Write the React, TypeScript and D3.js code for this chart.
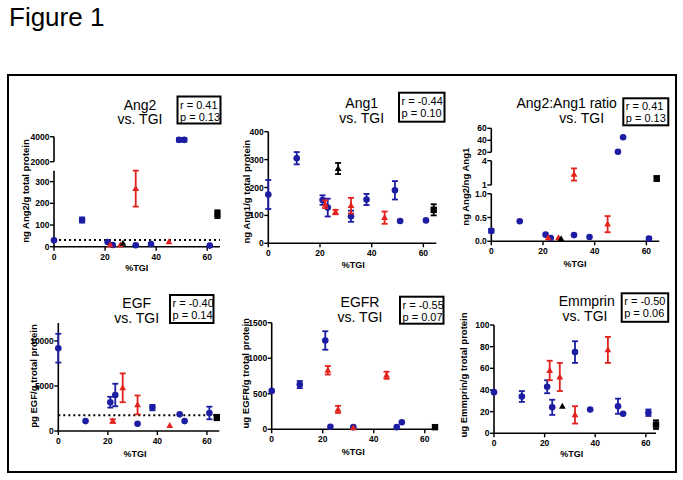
import React from "react";
import * as d3 from "d3";

// ---------- DATA ----------
const blueTGI = [0, 11, 21, 23, 32, 38, 49, 51, 61];
const redTGI = [22, 26, 32, 45];
const blackTGI = [27, 64];
const blackShapes = ["triangle", "square"];
const xTicks = [0, 20, 40, 60];

const ang2Blue = [30, 123, 22, 8, 7, 12, 3750, 3750, 5];
const ang2BlueErr = [0, 12, 0, 0, 0, 0, 150, 150, 0];
const ang2Red = [8, 8, 268, 22];
const ang2RedErr = [0, 0, 83, 0];
const ang2Black = [15, 150];
const ang2BlackErr = [0, 18];

const ang1Blue = [175, 305, 155, 128, 97, 157, 190, 80, 82];
const ang1BlueErr = [52, 22, 17, 32, 20, 20, 33, 3, 0];
const ang1Red = [140, 112, 135, 92];
const ang1RedErr = [14, 8, 28, 22];
const ang1Black = [268, 120];
const ang1BlackErr = [20, 20];

const ratioBlue = [0.22, 0.42, 0.14, 0.07, 0.13, 0.09, 21, 45, 0.06];
const ratioBlueErr = [0.04, 0, 0, 0, 0, 0, 0, 0, 0.03];
const ratioRed = [0.07, 0.07, 2.3, 0.36];
const ratioRedErr = [0, 0, 0.75, 0.17];
const ratioBlack = [0.05, 1.8];
const ratioBlackErr = [0, 0.3];

const egfBlue = [9200, 1100, 3200, 4000, 800, 2600, 1850, 1100, 2000];
const egfBlueErr = [1600, 0, 600, 1250, 0, 300, 0, 0, 700];
const egfRed = [1100, 4800, 2900, 600];
const egfRedErr = [200, 1600, 1050, 0];
const egfBlack = [null, 1500];
const egfBlackErr = [0, 300];

const egfrBlue = [540, 630, 1250, 35, 30, null, 30, 100, null];
const egfrBlueErr = [0, 50, 130, 0, 0, 0, 0, 0, 0];
const egfrRed = [830, 280, 20, 760];
const egfrRedErr = [60, 50, 0, 50];
const egfrBlack = [null, 30];
const egfrBlackErr = [0, 0];

const emmBlue = [38, 34, 43, 24, 75, 22, 25, 18, 19];
const emmBlueErr = [0, 5, 6, 7, 10, 0, 7, 0, 3];
const emmRed = [58, 52, 17, 77];
const emmRedErr = [9, 13, 8, 12];
const emmBlack = [25, 8];
const emmBlackErr = [0, 4];

// ---------- STYLE / LAYOUT ----------
const BLUE = "#1d1da3";
const RED = "#e3221e";
const BLACK = "#000";
const FONT = "'Liberation Sans', Arial, sans-serif";

type Seg = { d: [number, number]; r: [number, number]; ticks: number[]; fmt: string };

const panels: any[] = [
  {
    t1: "Ang2", t2: "vs. TGI", tx1: 140, tx2: 140, ty1: 110, ty2: 124,
    stats: ["r = 0.41", "p = 0.13"], box: [177.5, 96.5, 43, 27],
    ylab: "ng Ang2/g total protein", ylx: 25, yly: 191,
    xlx: 136.7, xly: 267.5,
    xr: [54, 220], xmax: 65,
    segs: [
      { d: [0, 350], r: [246.7, 170.8], ticks: [0, 100, 200, 300], fmt: "d" },
      { d: [2000, 4000], r: [161.7, 136.7], ticks: [2000, 4000], fmt: "d" },
    ],
    dotted: 31,
    data: [ang2Blue, ang2BlueErr, ang2Red, ang2RedErr, ang2Black, ang2BlackErr],
  },
  {
    t1: "Ang1", t2: "vs. TGI", tx1: 361.7, tx2: 361.7, ty1: 108, ty2: 122.5,
    stats: ["r = -0.44", "p = 0.10"], box: [399, 92.7, 45.5, 29],
    ylab: "ng Ang1/g total protein", ylx: 246.7, yly: 191.7,
    xlx: 353.3, xly: 265,
    xr: [268.3, 436.3], xmax: 65,
    segs: [{ d: [0, 400], r: [243.3, 131.7], ticks: [0, 100, 200, 300, 400], fmt: "d" }],
    dotted: null,
    data: [ang1Blue, ang1BlueErr, ang1Red, ang1RedErr, ang1Black, ang1BlackErr],
  },
  {
    t1: "Ang2:Ang1 ratio", t2: "vs. TGI", tx1: 566.7, tx2: 581.7, ty1: 108.3, ty2: 123.3,
    stats: ["r = 0.41", "p = 0.13"], box: [623.3, 98.3, 45, 27],
    ylab: "ng Ang2/ng Ang1", ylx: 465, yly: 186.7,
    xlx: 575, xly: 263.5,
    xr: [491.3, 659.3], xmax: 65,
    segs: [
      { d: [0, 1], r: [241.3, 193.7], ticks: [0, 0.5, 1], fmt: ".1f" },
      { d: [1, 4], r: [185, 160.7], ticks: [1, 4], fmt: "d" },
      { d: [20, 60], r: [152.3, 128.3], ticks: [20, 40, 60], fmt: "d" },
    ],
    dotted: null,
    data: [ratioBlue, ratioBlueErr, ratioRed, ratioRedErr, ratioBlack, ratioBlackErr],
  },
  {
    t1: "EGF", t2: "vs. TGI", tx1: 136.7, tx2: 136.7, ty1: 308.3, ty2: 322.7,
    stats: ["r = -0.40", "p = 0.14"], box: [170, 295, 43.5, 28],
    ylab: "pg EGF/g trotal protein", ylx: 33.3, yly: 376,
    xlx: 135, xly: 453.5,
    xr: [58.3, 219.3], xmax: 65,
    segs: [{ d: [0, 12000], r: [431, 323], ticks: [0, 5000, 10000], fmt: "d" }],
    dotted: 1750,
    data: [egfBlue, egfBlueErr, egfRed, egfRedErr, egfBlack, egfBlackErr],
  },
  {
    t1: "EGFR", t2: "vs. TGI", tx1: 360, tx2: 360, ty1: 307.3, ty2: 321.7,
    stats: ["r = -0.55", "p = 0.07"], box: [400, 296.7, 43.5, 27],
    ylab: "ug EGFR/g trotal protein", ylx: 245.7, yly: 373.3,
    xlx: 353.3, xly: 451.7,
    xr: [271.7, 435], xmax: 64,
    segs: [{ d: [0, 1500], r: [429.3, 322.7], ticks: [0, 500, 1000, 1500], fmt: "d" }],
    dotted: null,
    data: [egfrBlue, egfrBlueErr, egfrRed, egfrRedErr, egfrBlack, egfrBlackErr],
  },
  {
    t1: "Emmprin", t2: "vs. TGI", tx1: 586.7, tx2: 585, ty1: 306, ty2: 320.7,
    stats: ["r = -0.50", "p = 0.06"], box: [621.7, 293.3, 46.5, 28.5],
    ylab: "ug Emmprin/g trotal protein", ylx: 463.3, yly: 375,
    xlx: 571.7, xly: 454,
    xr: [494, 656], xmax: 64,
    segs: [{ d: [0, 100], r: [433.3, 325], ticks: [0, 20, 40, 60, 80, 100], fmt: "d" }],
    dotted: null,
    data: [emmBlue, emmBlueErr, emmRed, emmRedErr, emmBlack, emmBlackErr],
  },
];

function Marker({ shape, x, y, color }: any) {
  if (shape === "circle") return <circle cx={x} cy={y} r={3.3} fill={color} />;
  if (shape === "triangle") {
    const p = d3.path();
    p.moveTo(x, y - 3.6);
    p.lineTo(x + 3.4, y + 2.4);
    p.lineTo(x - 3.4, y + 2.4);
    p.closePath();
    return <path d={p.toString()} fill={color} />;
  }
  return <rect x={x - 3.2} y={y - 3.2} width={6.4} height={6.4} fill={color} />;
}

function Panel({ cfg }: any) {
  const x = d3.scaleLinear().domain([0, cfg.xmax]).range(cfg.xr);
  const segs: Seg[] = cfg.segs;
  const scales = segs.map((s) => d3.scaleLinear().domain(s.d).range(s.r));
  const segIdx = (v: number) => {
    for (let i = 0; i < segs.length; i++) if (v <= segs[i].d[1]) return i;
    return segs.length - 1;
  };
  const ax = cfg.xr[0];
  const base = segs[0].r[0];
  const [bV, bE, rV, rE, kV, kE] = cfg.data;
  const groups = [
    { xs: blueTGI, v: bV, e: bE, color: BLUE, shape: () => "circle" },
    { xs: redTGI, v: rV, e: rE, color: RED, shape: () => "triangle" },
    { xs: blackTGI, v: kV, e: kE, color: BLACK, shape: (i: number) => blackShapes[i] },
  ];
  return (
    <g>
      {/* title */}
      <text x={cfg.tx1} y={cfg.ty1} textAnchor="middle" fontSize={14} fontFamily={FONT}>{cfg.t1}</text>
      <text x={cfg.tx2} y={cfg.ty2} textAnchor="middle" fontSize={14} fontFamily={FONT}>{cfg.t2}</text>
      {/* stats box */}
      <rect x={cfg.box[0]} y={cfg.box[1]} width={cfg.box[2]} height={cfg.box[3]} fill="#fff" stroke="#000" strokeWidth={2} />
      <text x={cfg.box[0] + 2.5} y={cfg.box[1] + 12} fontSize={11} fontFamily={FONT}>{cfg.stats[0]}</text>
      <text x={cfg.box[0] + 2.5} y={cfg.box[1] + 24} fontSize={11} fontFamily={FONT}>{cfg.stats[1]}</text>
      {/* axes labels */}
      <text transform={`translate(${cfg.ylx},${cfg.yly}) rotate(-90)`} textAnchor="middle" dominantBaseline="central" fontSize={9.5} fontWeight="bold" fontFamily={FONT}>{cfg.ylab}</text>
      <text x={cfg.xlx} y={cfg.xly} textAnchor="middle" dominantBaseline="central" fontSize={9} fontWeight="bold" fontFamily={FONT}>%TGI</text>
      {/* dotted reference line */}
      {cfg.dotted != null && (
        <line x1={ax} x2={cfg.xr[1]} y1={scales[segIdx(cfg.dotted)](cfg.dotted)} y2={scales[segIdx(cfg.dotted)](cfg.dotted)} stroke="#000" strokeWidth={2} strokeDasharray="2,3" />
      )}
      {/* x axis */}
      <line x1={ax} x2={cfg.xr[1]} y1={base} y2={base} stroke="#000" strokeWidth={1.6} />
      {xTicks.map((t) => (
        <g key={"xt" + t}>
          <line x1={x(t)} x2={x(t)} y1={base} y2={base + 4} stroke="#000" strokeWidth={1.4} />
          <text x={x(t)} y={base + 10} textAnchor="middle" dominantBaseline="central" fontSize={8.5} fontWeight="bold" fontFamily={FONT}>{t}</text>
        </g>
      ))}
      {/* y axis segments */}
      {segs.map((s, i) => (
        <g key={"seg" + i}>
          <line x1={ax} x2={ax} y1={s.r[0]} y2={s.r[1]} stroke="#000" strokeWidth={1.6} />
          {s.ticks.map((t) => (
            <g key={"yt" + t}>
              <line x1={ax - 4} x2={ax} y1={scales[i](t)} y2={scales[i](t)} stroke="#000" strokeWidth={1.4} />
              <text x={ax - 4.5} y={scales[i](t)} textAnchor="end" dominantBaseline="central" fontSize={8.5} fontWeight="bold" fontFamily={FONT}>{d3.format(s.fmt)(t)}</text>
            </g>
          ))}
        </g>
      ))}
      {/* data */}
      {groups.map((g, gi) =>
        g.xs.map((tx, i) => {
          const v = g.v[i];
          if (v == null) return null;
          const si = segIdx(v);
          const sc = scales[si];
          const cx = x(tx);
          const cy = sc(v);
          const e = g.e[i] || 0;
          return (
            <g key={`d${gi}-${i}`}>
              {e > 0 && (
                <g stroke={g.color} strokeWidth={1.8}>
                  <line x1={cx} x2={cx} y1={sc(v - e)} y2={sc(v + e)} />
                  <line x1={cx - 3} x2={cx + 3} y1={sc(v - e)} y2={sc(v - e)} />
                  <line x1={cx - 3} x2={cx + 3} y1={sc(v + e)} y2={sc(v + e)} />
                </g>
              )}
              <Marker shape={g.shape(i)} x={cx} y={cy} color={g.color} />
            </g>
          );
        })
      )}
    </g>
  );
}

export default function App() {
  return (
    <svg width={683} height={480} style={{ position: "absolute", left: 0, top: 0, background: "#fff" }}>
      <rect x={0} y={0} width={683} height={480} fill="#fff" />
      <text x={9} y={26} fontSize={26} fontFamily={FONT}>Figure 1</text>
      <rect x={8} y={75} width={668} height={397} fill="none" stroke="#000" strokeWidth={2} />
      {panels.map((p, i) => (
        <Panel key={i} cfg={p} />
      ))}
    </svg>
  );
}
